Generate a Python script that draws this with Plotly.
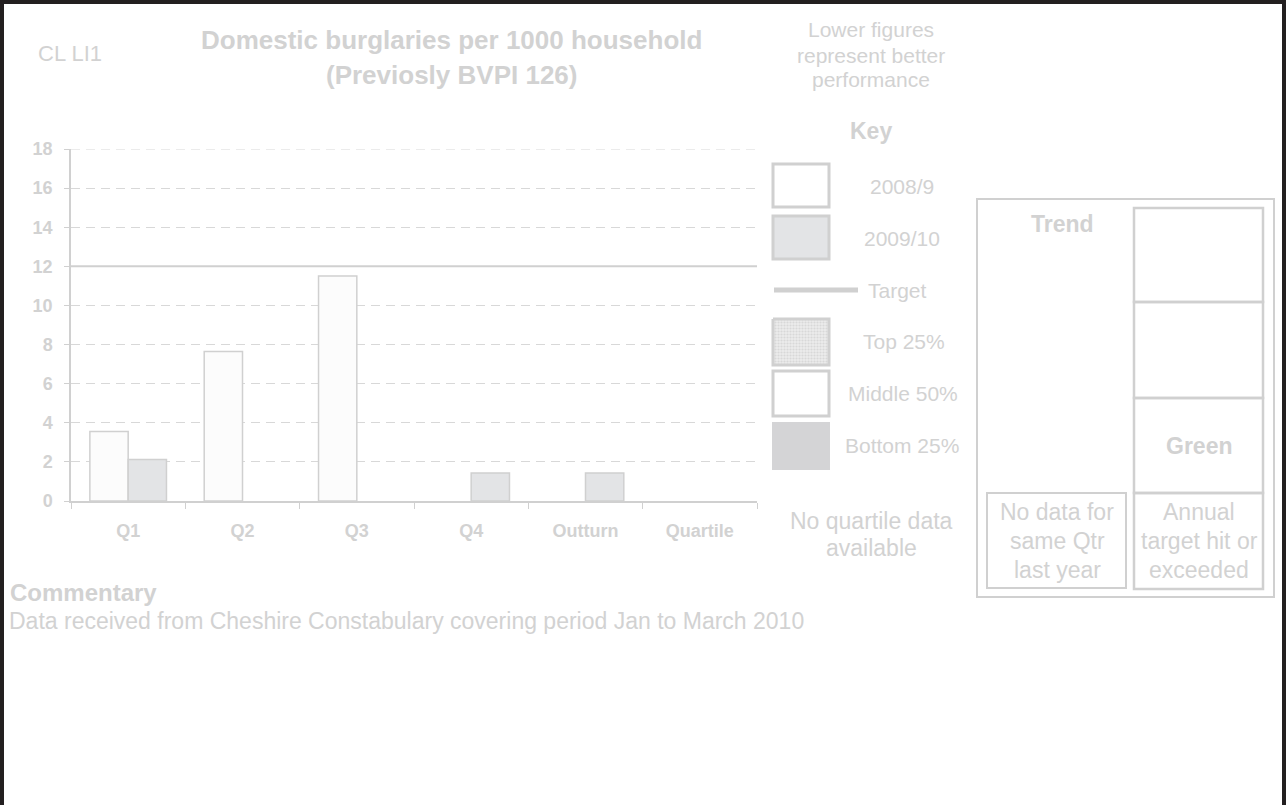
import plotly.graph_objects as go

# ---- data ----
categories = ["Q1", "Q2", "Q3", "Q4", "Outturn", "Quartile"]
series_2008_9 = [3.55, 7.65, 11.5, None, None, None]
series_2009_10 = [2.12, None, None, 1.43, 1.43, None]
target = 12
y_ticks = [0, 2, 4, 6, 8, 10, 12, 14, 16, 18]
series_names = ["2008/9", "2009/10"]

W, H = 1286, 805
TXT = "#d2d2d2"
EDGE = "#d0d0d0"
GRID = "#d8d8d8"
FONT = "Liberation Sans, Arial, sans-serif"


def px(x):
    return x / W


def py(y):
    return 1 - y / H


fig = go.Figure()
fig.add_trace(go.Bar(x=categories, y=series_2008_9, name=series_names[0],
                     marker=dict(color="#fcfcfc", line=dict(color=EDGE, width=1.5)),
                     showlegend=False))
fig.add_trace(go.Bar(x=categories, y=series_2009_10, name=series_names[1],
                     marker=dict(color="#e3e4e6", line=dict(color=EDGE, width=1.5)),
                     showlegend=False))

# Top 25% swatch with dotted pattern on a hidden full-page axis
fig.add_trace(go.Scatter(x=[773, 829, 829, 773, 773], y=[319, 319, 365, 365, 319],
                         xaxis="x2", yaxis="y2", mode="lines", fill="toself",
                         line=dict(color=EDGE, width=3),
                         fillpattern=dict(shape=".", fgcolor="#c4c4c4", bgcolor="#ececec",
                                          size=3, solidity=0.4),
                         fillcolor="#ececec",
                         hoverinfo="skip", showlegend=False))

shapes = []
# top gridline (plotly skips the one on the range edge)
shapes.append(dict(type="line", xref="x domain", yref="y", x0=0, x1=1,
                   y0=y_ticks[-1], y1=y_ticks[-1],
                   line=dict(color=GRID, width=1, dash="9px,6px"), layer="below"))
# target line
shapes.append(dict(type="line", xref="x domain", yref="y", x0=0, x1=1, y0=target, y1=target,
                   line=dict(color=EDGE, width=2), layer="above"))
# page border (left, top, right)
shapes.append(dict(type="path", xref="paper", yref="paper",
                   path=f"M {px(2)},{py(810)} L {px(2)},{py(2)} L {px(1284)},{py(2)} L {px(1284)},{py(810)}",
                   line=dict(color="#231f20", width=4)))


def rect(x0, y0, x1, y1, fill="rgba(0,0,0,0)", lw=3, lc=EDGE):
    shapes.append(dict(type="rect", xref="paper", yref="paper",
                       x0=px(x0), x1=px(x1), y0=py(y1), y1=py(y0),
                       fillcolor=fill, line=dict(color=lc, width=lw)))


# key swatches
rect(773, 164, 829, 207, fill="#ffffff")
rect(773, 216, 829, 259, fill="#e3e4e6")
shapes.append(dict(type="line", xref="paper", yref="paper", x0=px(774), x1=px(858),
                   y0=py(290), y1=py(290), line=dict(color=EDGE, width=5)))
rect(773, 371, 829, 416, fill="#ffffff")
rect(772, 422, 830, 470, fill="#d4d4d6", lw=0)

# trend box
rect(977, 199, 1274, 597, lw=2)
rect(1134, 208, 1263, 302, lw=2.5)
rect(1134, 302, 1263, 398, lw=2.5)
rect(1134, 398, 1263, 493, lw=2.5)
rect(1134, 493, 1263, 589, lw=2.5)
rect(987, 493, 1126, 588, lw=2)

ann = []


def text(x, y, s, size=15, bold=False, anchor="center"):
    if bold:
        s = f"<b>{s}</b>"
    ann.append(dict(xref="paper", yref="paper", x=px(x), y=py(y), text=s, showarrow=False,
                    xanchor=anchor, yanchor="middle", font=dict(size=size, color=TXT, family=FONT)))


text(36, 54, "CL LI1", size=22, anchor="left")
text(451, 40, "Domestic burglaries per 1000 household", size=26, bold=True)
text(451, 75, "(Previosly BVPI 126)", size=26, bold=True)
text(871, 30, "Lower figures", size=21)
text(871, 55, "represent better", size=21)
text(871, 80, "performance", size=21)
text(871, 131, "Key", size=23, bold=True)
text(902, 186, series_names[0], size=21)
text(902, 238, series_names[1], size=21)
text(897, 290, "Target", size=21)
text(904, 342, "Top 25%", size=21)
text(903, 393, "Middle 50%", size=21)
text(902, 445, "Bottom 25%", size=21)
text(871, 521, "No quartile data", size=23)
text(871, 548, "available", size=23)
text(1062, 224, "Trend", size=23, bold=True)
text(1199, 446, "Green", size=23, bold=True)
text(1057, 512, "No data for", size=23)
text(1057, 541, "same Qtr", size=23)
text(1057, 570, "last year", size=23)
text(1199, 512, "Annual", size=23)
text(1199, 541, "target hit or", size=23)
text(1199, 570, "exceeded", size=23)
text(8, 592, "Commentary", size=24, bold=True, anchor="left")
text(7, 621, "Data received from Cheshire Constabulary covering period Jan to March 2010",
     size=23, anchor="left")

fig.update_layout(
    width=W, height=H,
    margin=dict(l=0, r=0, t=0, b=0),
    paper_bgcolor="white", plot_bgcolor="rgba(0,0,0,0)",
    barmode="group", bargap=0.33, bargroupgap=0,
    font=dict(family=FONT, color=TXT),
    shapes=shapes, annotations=ann,
    xaxis=dict(domain=[px(71), px(757)], type="category", categoryorder="array",
               categoryarray=categories, range=[-0.5, len(categories) - 0.5],
               showline=True, linecolor=EDGE, linewidth=1.5,
               ticks="outside", tickson="boundaries", ticklen=6, tickcolor=EDGE,
               tickfont=dict(size=18, color=TXT, family=FONT, weight="bold"),
               ticklabelstandoff=13, automargin=False,
               showgrid=False, anchor="y"),
    yaxis=dict(domain=[py(501), py(149)], range=[0, 18], tickvals=y_ticks,
               showline=True, linecolor=EDGE, linewidth=1.5,
               ticks="outside", ticklen=5, tickcolor=EDGE,
               tickfont=dict(size=18, color=TXT, family=FONT, weight="bold"),
               showgrid=True, gridcolor=GRID, griddash="9px,6px", gridwidth=1,
               zeroline=False, ticklabelstandoff=8, automargin=False, anchor="x"),
    xaxis2=dict(domain=[0, 1], range=[0, W], visible=False, anchor="y2", fixedrange=True),
    yaxis2=dict(domain=[0, 1], range=[H, 0], visible=False, anchor="x2", fixedrange=True),
)

post = (
    "document.documentElement.style.margin='0';document.documentElement.style.padding='0';"
    "document.body.style.margin='0';document.body.style.padding='0';"
    "document.documentElement.style.overflow='hidden';document.body.style.overflow='hidden';"
    "var gd=document.querySelector('.plotly-graph-div');"
    "gd.style.position='fixed';gd.style.top='0px';gd.style.left='0px';"
)
fig.write_html("out.html", config={"displayModeBar": False}, post_script=post)
